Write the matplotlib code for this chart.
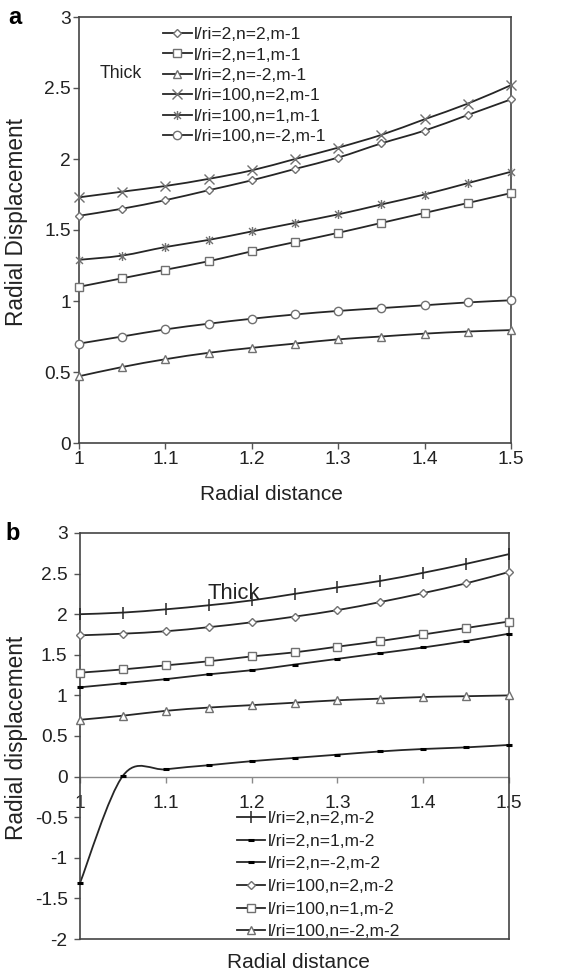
import matplotlib
matplotlib.use("Agg")
import matplotlib.pyplot as plt
import numpy as np
from matplotlib.path import Path
from matplotlib.patches import PathPatch
from matplotlib.lines import Line2D

plt.rcParams['font.family'] = ['Liberation Sans', 'DejaVu Sans']

# ---------------- data ----------------
x_vals = [1.0, 1.05, 1.1, 1.15, 1.2, 1.25, 1.3, 1.35, 1.4, 1.45, 1.5]

# panel a (m-1)
a_labels = ["l/ri=2,n=2,m-1", "l/ri=2,n=1,m-1", "l/ri=2,n=-2,m-1",
            "l/ri=100,n=2,m-1", "l/ri=100,n=1,m-1", "l/ri=100,n=-2,m-1"]
a_r2_n2 = [1.60, 1.65, 1.71, 1.78, 1.85, 1.93, 2.01, 2.11, 2.20, 2.31, 2.42]
a_r2_n1 = [1.10, 1.16, 1.22, 1.28, 1.35, 1.415, 1.48, 1.55, 1.62, 1.69, 1.76]
a_r2_nm2 = [0.47, 0.535, 0.59, 0.635, 0.67, 0.70, 0.73, 0.75, 0.77, 0.785, 0.795]
a_r100_n2 = [1.73, 1.77, 1.81, 1.86, 1.92, 2.00, 2.08, 2.17, 2.28, 2.39, 2.52]
a_r100_n1 = [1.29, 1.32, 1.38, 1.43, 1.49, 1.55, 1.61, 1.68, 1.75, 1.83, 1.91]
a_r100_nm2 = [0.70, 0.75, 0.80, 0.84, 0.875, 0.905, 0.93, 0.95, 0.97, 0.99, 1.005]

# panel b (m-2)
b_labels = ["l/ri=2,n=2,m-2", "l/ri=2,n=1,m-2", "l/ri=2,n=-2,m-2",
            "l/ri=100,n=2,m-2", "l/ri=100,n=1,m-2", "l/ri=100,n=-2,m-2"]
b_r2_n2 = [2.00, 2.02, 2.06, 2.11, 2.17, 2.25, 2.33, 2.41, 2.51, 2.62, 2.74]
b_r2_n1 = [1.10, 1.15, 1.20, 1.26, 1.31, 1.38, 1.45, 1.52, 1.59, 1.67, 1.76]
b_r2_nm2 = [-1.31, 0.01, 0.09, 0.14, 0.19, 0.23, 0.27, 0.31, 0.34, 0.36, 0.39]
b_r100_n2 = [1.74, 1.76, 1.79, 1.84, 1.90, 1.97, 2.05, 2.15, 2.26, 2.38, 2.52]
b_r100_n1 = [1.28, 1.32, 1.37, 1.42, 1.48, 1.53, 1.60, 1.67, 1.75, 1.83, 1.91]
b_r100_nm2 = [0.70, 0.75, 0.81, 0.85, 0.88, 0.91, 0.94, 0.96, 0.98, 0.99, 1.00]

x_ticks = [1.0, 1.1, 1.2, 1.3, 1.4, 1.5]
x_ticklabels = ["1", "1.1", "1.2", "1.3", "1.4", "1.5"]
a_yticks = [0, 0.5, 1, 1.5, 2, 2.5, 3]
a_yticklabels = ["0", "0.5", "1", "1.5", "2", "2.5", "3"]
b_yticks = [-2, -1.5, -1, -0.5, 0, 0.5, 1, 1.5, 2, 2.5, 3]
b_yticklabels = ["-2", "-1.5", "-1", "-0.5", "0", "0.5", "1", "1.5", "2", "2.5", "3"]

# ---------------- style ----------------
LINE = '#262626'
MEDGE = '#707070'
LW = 1.3
TICK_FS = 13.8
LAB_FS = 15
YLAB_FS = 16.3
LEG_FS = 12.5

asterisk = Path([(-1, -1), (1, 1), (-1, 1), (1, -1), (0, -1.3), (0, 1.3)],
                [Path.MOVETO, Path.LINETO, Path.MOVETO, Path.LINETO, Path.MOVETO, Path.LINETO])


def smooth_line(ax, x, y, **kw):
    """Excel-like smoothed line (Catmull-Rom Bezier) through the data points."""
    x = np.asarray(x, float)
    y = np.asarray(y, float)
    P = np.column_stack([x, y])
    n = len(P)
    verts = [P[0]]
    codes = [Path.MOVETO]
    for i in range(n - 1):
        p0 = P[i - 1] if i > 0 else P[i]
        p1 = P[i]
        p2 = P[i + 1]
        p3 = P[i + 2] if i + 2 < n else P[i + 1]
        c1 = p1 + (p2 - p0) / 6.0
        c2 = p2 - (p3 - p1) / 6.0
        verts += [c1, c2, p2]
        codes += [Path.CURVE4] * 3
    patch = PathPatch(Path(verts, codes), facecolor='none', edgecolor=LINE,
                      lw=LW, transform=ax.transData, zorder=2, **kw)
    ax.add_patch(patch)


def series(ax, x, y, mk):
    smooth_line(ax, x, y)
    ax.plot(x, y, linestyle='none', zorder=3, clip_on=False, **mk)


mk_diamond = dict(marker='D', ms=4.5, mfc='white', mec=MEDGE, mew=1.0)
mk_square = dict(marker='s', ms=6.3, mfc='white', mec=MEDGE, mew=1.0)
mk_square_s = dict(marker='s', ms=5.5, mfc='white', mec=MEDGE, mew=1.0)
mk_tri = dict(marker='^', ms=6, mfc='white', mec=MEDGE, mew=1.0)
mk_x = dict(marker='x', ms=6.5, mec=MEDGE, mew=1.0)
mk_ast = dict(marker=asterisk, ms=6.5, mec=MEDGE, mfc='none', mew=1.0)
mk_circle = dict(marker='o', ms=6, mfc='white', mec=MEDGE, mew=1.0)
mk_plus = dict(marker='|', ms=8, mec=LINE, mew=1.1)
mk_dash = dict(marker='_', ms=4, mec='black', mew=2.2)

fig = plt.figure(figsize=(5.67, 9.75), dpi=100)

# ---------------- panel a ----------------
axa = fig.add_axes([79 / 567, 1 - 443 / 975, 432 / 567, 426 / 975])
a_series = [a_r2_n2, a_r2_n1, a_r2_nm2, a_r100_n2, a_r100_n1, a_r100_nm2]
a_marks = [mk_diamond, mk_square_s, mk_tri, mk_x, mk_ast, mk_circle]
for ys, mk in zip(a_series, a_marks):
    series(axa, x_vals, ys, mk)
axa.set_xlim(1.0, 1.5)
axa.set_ylim(0, 3)
axa.set_xticks(x_ticks)
axa.set_xticklabels(x_ticklabels)
axa.set_yticks(a_yticks)
axa.set_yticklabels(a_yticklabels)
axa.tick_params(direction='out', length=4, width=1, color='#555555',
                labelsize=TICK_FS, pad=2, labelcolor='#222222')
for s in axa.spines.values():
    s.set_color('#444444')
    s.set_linewidth(1.2)

handles_a = [Line2D([], [], color=LINE, lw=LW, **mk) for mk in a_marks]
axa.legend(handles_a, a_labels, loc='upper left', frameon=False,
           bbox_to_anchor=(163 / 567, 1 - 27 / 975), bbox_transform=fig.transFigure,
           fontsize=LEG_FS, handlelength=1.65, handletextpad=0.15,
           labelspacing=0.3, borderpad=0, borderaxespad=0, labelcolor='#222222')
axa.text(1.0243, 2.60, "Thick", fontsize=12.8, va='center', ha='left', color='#222222')

# ---------------- panel b ----------------
axb = fig.add_axes([80 / 567, 1 - 939 / 975, 429 / 567, 406 / 975])
b_series = [b_r2_n2, b_r2_n1, b_r2_nm2, b_r100_n2, b_r100_n1, b_r100_nm2]
b_marks = [mk_plus, mk_dash, mk_dash, mk_diamond, mk_square, mk_tri]
for ys, mk in zip(b_series, b_marks):
    series(axb, x_vals, ys, mk)
axb.set_xlim(1.0, 1.5)
axb.set_ylim(-2, 3)
axb.axhline(0, color='#8a8a8a', lw=1.0, zorder=1)
axb.set_xticks([])
axb.set_yticks(b_yticks)
axb.set_yticklabels(b_yticklabels)
axb.tick_params(axis='y', direction='out', length=4, width=1, color='#555555',
                labelsize=TICK_FS, pad=5, labelcolor='#222222')
for s in axb.spines.values():
    s.set_color('#444444')
    s.set_linewidth(1.2)
sec = axb.secondary_xaxis(0.4)
sec.set_xticks(x_ticks)
sec.set_xticklabels(x_ticklabels)
sec.tick_params(direction='out', length=4, width=1, color='#8a8a8a',
                labelsize=TICK_FS, pad=9, labelcolor='#222222')
sec.spines['bottom'].set_visible(False)

handles_b = [Line2D([], [], color=LINE, lw=LW, **mk) for mk in b_marks]
axb.legend(handles_b, b_labels, loc='upper left', frameon=False,
           bbox_to_anchor=(237 / 567, 1 - 811 / 975), bbox_transform=fig.transFigure,
           fontsize=LEG_FS, handlelength=1.6, handletextpad=0.15,
           labelspacing=0.43, borderpad=0, borderaxespad=0, labelcolor='#222222')
axb.text(1.149, 2.26, "Thick", fontsize=15.8, va='center', ha='left', color='#222222')

# ---------------- labels ----------------
fig.text(0.479, 1 - 495 / 975, "Radial distance", fontsize=LAB_FS, ha='center', va='center', color='#222222')
fig.text(298 / 567, 1 - 963 / 975, "Radial distance", fontsize=LAB_FS, ha='center', va='center', color='#222222')
fig.text(16.5 / 567, 1 - 222 / 975, "Radial Displacement", fontsize=YLAB_FS, rotation=90,
         ha='center', va='center', color='#222222')
fig.text(16.5 / 567, 1 - 738 / 975, "Radial displacement", fontsize=YLAB_FS, rotation=90,
         ha='center', va='center', color='#222222')
fig.text(15 / 567, 1 - 18 / 975, "a", fontsize=17, fontweight='bold', ha='center', va='center')
fig.text(13 / 567, 1 - 533 / 975, "b", fontsize=17, fontweight='bold', ha='center', va='center')

fig.savefig("out.png", dpi=100)
